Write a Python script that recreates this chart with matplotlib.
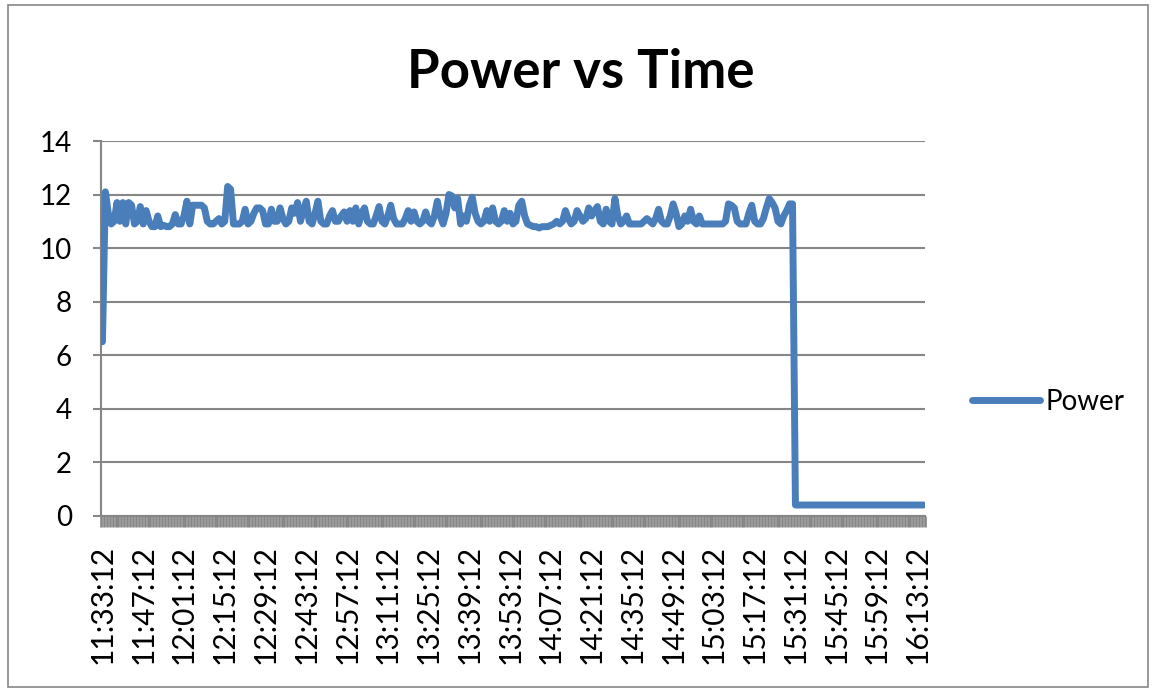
import numpy as np
import matplotlib
matplotlib.use("Agg")
import matplotlib.pyplot as plt
from matplotlib.patches import Rectangle
from matplotlib.ticker import FixedLocator

# Power readings, one per minute starting at 11:33:12
power = [
    6.5, 12.1, 11.3, 10.9, 11.0, 11.7, 11.0, 11.7, 10.9, 11.7,
    11.6, 10.9, 11.0, 11.55, 10.9, 11.4, 11.0, 10.8, 10.8,
    11.2, 10.8, 10.85, 10.8, 10.8, 10.9, 11.25, 10.9, 10.9, 11.2,
    11.75, 10.9, 11.6, 11.6, 11.6, 11.6, 11.5, 11.0, 10.9, 10.9,
    11.0, 11.1, 10.9, 11.0, 12.3, 12.2, 10.9, 10.9, 10.9, 11.0,
    11.45, 10.9, 11.0, 11.3, 11.5, 11.5, 11.4, 10.9, 10.9,
    11.45, 11.0, 11.0, 11.5, 11.1, 10.9, 11.0, 11.5, 11.3, 11.7,
    11.0, 11.4, 11.75, 11.0, 10.9, 11.3, 11.75, 11.0, 10.9, 10.9,
    11.2, 11.4, 11.0, 11.0, 11.2, 11.35, 11.0, 11.4, 11.0,
    11.5, 10.9, 11.3, 11.5, 11.0, 10.9, 10.9, 11.2, 11.55, 11.0,
    10.9, 11.2, 11.6, 11.1, 10.9, 10.9, 10.9, 11.1, 11.4, 11.0,
    11.35, 11.0, 10.9, 11.0, 11.35, 11.0, 10.9, 11.2, 11.75,
    11.2, 10.9, 11.3, 12.0, 11.95, 11.5, 11.85, 10.9, 11.2, 11.0,
    11.6, 11.9, 11.3, 11.0, 10.9, 11.0, 11.4, 11.0, 11.5, 11.0,
    10.9, 11.0, 11.4, 11.0, 11.3, 10.9, 11.0, 11.6, 11.75, 11.2,
    10.9, 10.85, 10.8, 10.8, 10.75, 10.8, 10.8, 10.8, 10.85,
    10.9, 11.0, 10.9, 11.0, 11.4, 11.1, 10.9, 11.0, 11.4, 11.2,
    11.0, 11.1, 11.5, 11.2, 11.4, 11.55, 11.0, 10.9, 11.45, 11.0,
    10.9, 11.85, 11.2, 10.9, 11.0, 11.2, 10.9, 10.9, 10.9,
    10.9, 10.9, 11.0, 11.1, 11.0, 10.9, 11.1, 11.45, 11.0, 10.9,
    10.9, 11.2, 11.65, 11.3, 10.8, 10.9, 11.2, 11.0, 11.45, 11.0,
    10.9, 11.2, 10.9, 10.9, 10.9, 10.9, 10.9, 10.9, 10.9, 10.9,
    11.0, 11.65, 11.6, 11.5, 11.0, 10.9, 10.9, 10.9, 11.3,
    11.6, 11.0, 10.9, 10.9, 11.1, 11.5, 11.85, 11.7, 11.5, 11.0,
    10.9, 11.2, 11.4, 11.65, 11.65,
    0.4, 0.4, 0.4, 0.4, 0.4, 0.4, 0.4, 0.4, 0.4, 0.4,
    0.4, 0.4, 0.4, 0.4, 0.4, 0.4, 0.4, 0.4, 0.4, 0.4,
    0.4, 0.4, 0.4, 0.4, 0.4, 0.4, 0.4, 0.4, 0.4, 0.4,
    0.4, 0.4, 0.4, 0.4, 0.4, 0.4, 0.4, 0.4, 0.4, 0.4,
    0.4, 0.4, 0.4, 0.4, 0.4,
]

# Category labels shown on the axis (every 14th reading)
tick_labels = [
    "11:33:12", "11:47:12", "12:01:12", "12:15:12", "12:29:12", "12:43:12",
    "12:57:12", "13:11:12", "13:25:12", "13:39:12", "13:53:12", "14:07:12",
    "14:21:12", "14:35:12", "14:49:12", "15:03:12", "15:17:12", "15:31:12",
    "15:45:12", "15:59:12", "16:13:12",
]
label_step = 14

GRAY = "#868686"
BLUE = "#4A7EBB"
FONT = "Lato"

W, H = 1153, 691
fig = plt.figure(figsize=(W / 100, H / 100), dpi=100)

# chart area border
fig.add_artist(Rectangle((8 / W, 4 / H), 1140 / W, 682 / H, transform=fig.transFigure,
                         fill=False, ec=GRAY, lw=1.2))

ax = fig.add_axes([101 / W, 1 - 515.7 / H, 824 / W, 374.7 / H])

n = len(power)
x = np.arange(n)
ax.plot(x, power, color=BLUE, lw=5, solid_capstyle="round",
        solid_joinstyle="round", label="Power", zorder=3)

ax.set_xlim(-0.5, n - 0.5)
ax.set_ylim(0, 14)
ax.set_yticks(range(0, 15, 2))
ax.yaxis.grid(True, color=GRAY, lw=1.5)
ax.set_axisbelow(True)

ax.set_xticks(x[::label_step][:len(tick_labels)])
ax.set_xticklabels(tick_labels, rotation=90, fontfamily=FONT, fontsize=21.5)
ax.xaxis.set_minor_locator(FixedLocator(np.arange(-0.5, n, 1.0)))
ax.tick_params(axis="x", which="major", length=0, pad=21)
ax.tick_params(axis="x", which="minor", length=8, width=1.9, color=GRAY)
ax.tick_params(axis="y", length=5.8, width=1.5, color=GRAY, pad=15, labelsize=20)
for lab in ax.get_yticklabels():
    lab.set_fontfamily(FONT)

for side in ("top", "right"):
    ax.spines[side].set_visible(False)
for side in ("left", "bottom"):
    ax.spines[side].set_color(GRAY)
    ax.spines[side].set_linewidth(1.5)

fig.text(581 / W, 1 - 88 / H, "Power vs Time", ha="center", va="baseline",
         fontsize=38, fontweight="bold", fontfamily=FONT)

ax.legend(loc="center left", bbox_to_anchor=(972 / W, 1 - 402 / H),
          bbox_transform=fig.transFigure, frameon=False, borderpad=0,
          borderaxespad=0, handlelength=2.45, handletextpad=0.2,
          prop={"family": FONT, "size": 20})

fig.savefig("out.png", dpi=100)
